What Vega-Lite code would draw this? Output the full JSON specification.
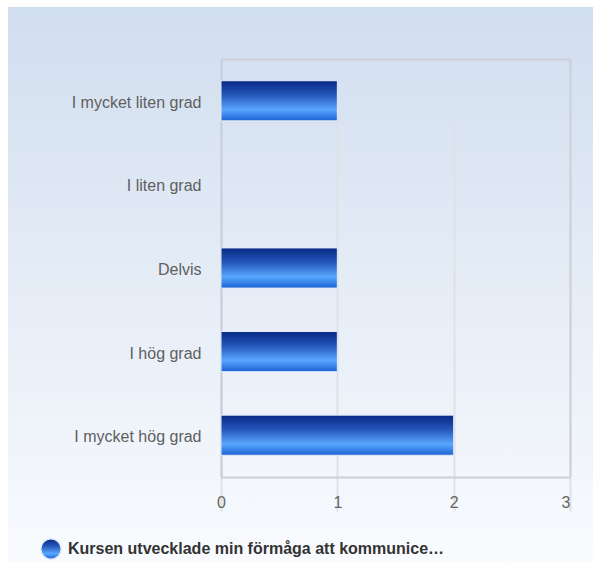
{
  "$schema": "https://vega.github.io/schema/vega-lite/v6.json",
  "width": 585,
  "height": 556,
  "autosize": "none",
  "padding": {"left": 8, "top": 7, "right": 0, "bottom": 0},
  "background": "#ffffff",
  "view": {
    "stroke": null,
    "fill": {
      "gradient": "linear", "x1": 0, "y1": 0, "x2": 0, "y2": 1,
      "stops": [
        {"offset": 0, "color": "#d1deef"},
        {"offset": 1, "color": "#f9fbfe"}
      ]
    }
  },
  "config": {
    "font": "Liberation Sans",
    "axis": {"title": null, "ticks": false, "domainColor": "#cdd0d6", "domainWidth": 2}
  },
  "data": {
    "values": [
      {"kategori": "I mycket liten grad", "antal": 1, "serie": "Kursen utvecklade min förmåga att kommunice…"},
      {"kategori": "I liten grad", "antal": 0, "serie": "Kursen utvecklade min förmåga att kommunice…"},
      {"kategori": "Delvis", "antal": 1, "serie": "Kursen utvecklade min förmåga att kommunice…"},
      {"kategori": "I hög grad", "antal": 1, "serie": "Kursen utvecklade min förmåga att kommunice…"},
      {"kategori": "I mycket hög grad", "antal": 2, "serie": "Kursen utvecklade min förmåga att kommunice…"}
    ]
  },
  "encoding": {
    "y": {
      "field": "kategori", "type": "nominal",
      "scale": {
        "domain": ["I mycket liten grad", "I liten grad", "Delvis", "I hög grad", "I mycket hög grad"],
        "range": [52, 470], "paddingInner": 0.52, "paddingOuter": 0.26
      }
    },
    "x": {
      "field": "antal", "type": "quantitative",
      "scale": {"domain": [0, 3], "range": [213, 562], "nice": false}
    }
  },
  "layer": [
    {
      "transform": [{"filter": "datum.antal > 0"}],
      "mark": {
        "type": "bar",
        "strokeWidth": 1,
        "color": {
          "gradient": "linear", "x1": 0, "y1": 0, "x2": 0, "y2": 1,
          "stops": [
            {"offset": 0, "color": "#072885"},
            {"offset": 0.35, "color": "#2455b8"},
            {"offset": 0.72, "color": "#58a7ff"},
            {"offset": 1, "color": "#1b61d4"}
          ]
        }
      },
      "encoding": {
        "y": {
          "field": "kategori", "type": "nominal",
          "axis": {"orient": "left", "offset": -213, "labelPadding": 20, "labelFontSize": 16, "labelOffset": 2, "labelColor": "#5f5f5f", "grid": false, "domainColor": "#c6cddb"}
        },
        "x": {
          "field": "antal", "type": "quantitative",
          "axis": {
            "orient": "bottom", "offset": -86, "values": [0, 1, 2, 3], "format": "d",
            "labelFlush": false, "labelPadding": 17, "labelFontSize": 16, "labelColor": "#666666",
            "labelAlign": {"condition": {"test": "datum.value == 3", "value": "right"}, "value": "center"},
            "grid": true, "gridColor": "#dfe1e5", "gridWidth": 2
          }
        },
        "stroke": {
          "field": "serie", "type": "nominal",
          "scale": {"range": ["#e4ecf8"]},
          "legend": {
            "orient": "none", "legendX": 32, "legendY": 531, "title": null,
            "symbolType": "circle", "symbolSize": 420, "padding": 0,
            "labelFont": "Liberation Sans", "labelFontWeight": "bold", "labelFontSize": 16,
            "labelColor": "#333333", "labelLimit": 0, "labelOffset": 6,
            "encode": {
              "symbols": {
                "update": {
                  "fill": {"value": {
                    "gradient": "linear", "x1": 0, "y1": 0, "x2": 1, "y2": 0,
                    "stops": [
                      {"offset": 0, "color": "#1d5ed0"},
                      {"offset": 0.45, "color": "#4f98ef"},
                      {"offset": 1, "color": "#0c2f95"}
                    ]
                  }},
                  "stroke": {"value": "transparent"},
                  "opacity": {"value": 1},
                  "fillOpacity": {"value": 1}
                }
              }
            }
          }
        }
      }
    },
    {
      "mark": {"type": "bar", "opacity": 0},
      "encoding": {
        "y": {
          "field": "kategori", "type": "nominal",
          "axis": {"orient": "right", "offset": -23, "labels": false, "grid": false}
        },
        "x": {
          "field": "antal", "type": "quantitative",
          "axis": {"orient": "top", "offset": -52, "labels": false, "grid": false}
        }
      }
    }
  ]
}
